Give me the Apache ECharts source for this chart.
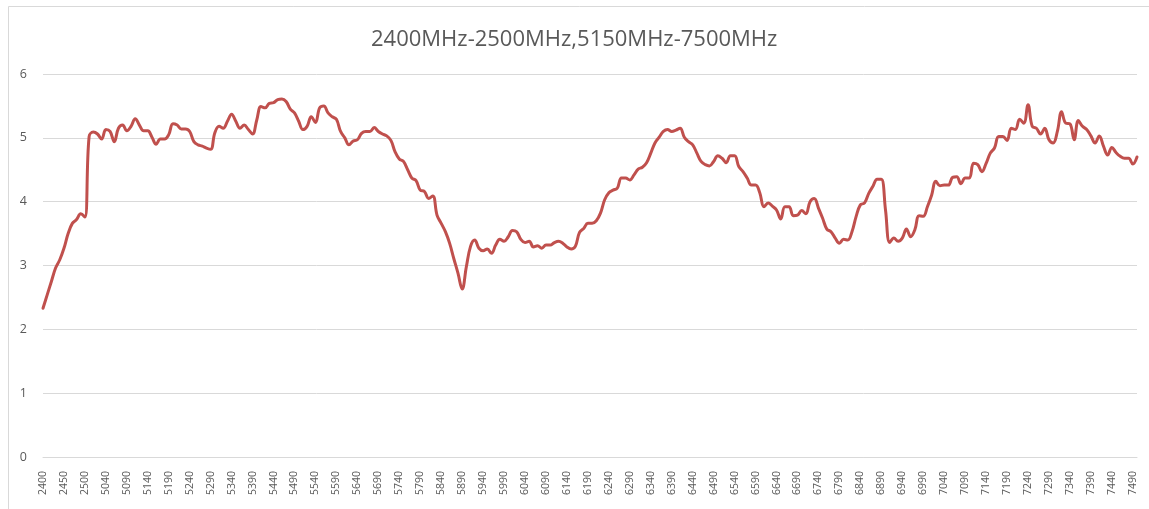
<!DOCTYPE html>
<html>
<head>
<meta charset="utf-8">
<script src="https://cdn.jsdelivr.net/npm/echarts@6/dist/echarts.min.js"></script>
<style>
html,body{margin:0;padding:0;background:#fff;}
#chart{width:1149px;height:509px;}
</style>
</head>
<body>
<div id="chart"></div>
<script>
const titleText = '2400MHz-2500MHz,5150MHz-7500MHz';

// Category labels (MHz)
const band24 = [2400, 2410, 2420, 2430, 2440, 2450, 2460, 2470, 2480, 2490, 2500];
const band5Start = 5000, band5End = 7500, band5Step = 10;
const band5 = [];
for (let f = band5Start; f <= band5End; f += band5Step) band5.push(f);
const categories = band24.concat(band5).map(String);

// Values
const vals24 = [2.33, 2.54, 2.75, 2.96, 3.09, 3.27, 3.50, 3.66, 3.72, 3.81, 3.76];
const valsA = [5.02, 5.09, 5.06, 4.98, 5.13, 5.10, 4.94, 5.15, 5.20, 5.11,
  5.18, 5.30, 5.20, 5.11, 5.11, 5.01, 4.90, 4.98, 4.98, 5.05,
  5.22, 5.20, 5.14, 5.14, 5.10, 4.94, 4.89, 4.87, 4.84, 4.82,
  5.08, 5.18, 5.15, 5.26, 5.37, 5.26, 5.15, 5.20, 5.13, 5.06];
const valsB = [5.28, 5.49, 5.47, 5.54, 5.55, 5.60, 5.61, 5.57, 5.45, 5.39,
  5.26, 5.13, 5.18, 5.33, 5.24, 5.47, 5.50, 5.39, 5.33, 5.29,
  5.10, 5.00, 4.89, 4.95, 4.97, 5.07, 5.10, 5.10, 5.16, 5.10,
  5.06, 5.03, 4.96, 4.78, 4.67, 4.63, 4.50, 4.37, 4.33, 4.18];
const valsC = [4.16, 4.05, 4.09, 3.79, 3.66, 3.53, 3.35, 3.11, 2.88, 2.63,
  2.98, 3.30, 3.40, 3.27, 3.23, 3.26, 3.19, 3.32, 3.41, 3.38,
  3.45, 3.55, 3.53, 3.41, 3.36, 3.38, 3.29, 3.31, 3.27, 3.32,
  3.32, 3.36, 3.38, 3.35, 3.29, 3.26, 3.30, 3.52, 3.58, 3.66];
const valsD = [3.66, 3.70, 3.82, 4.03, 4.14, 4.18, 4.21, 4.37, 4.37, 4.34,
  4.42, 4.51, 4.54, 4.61, 4.76, 4.92, 5.01, 5.10, 5.13, 5.10,
  5.12, 5.15, 5.01, 4.94, 4.89, 4.76, 4.63, 4.58, 4.56, 4.63,
  4.72, 4.68, 4.61, 4.72, 4.72, 4.55, 4.47, 4.37, 4.26, 4.26];
const valsE = [4.14, 3.92, 3.98, 3.93, 3.87, 3.73, 3.92, 3.92, 3.78, 3.79,
  3.86, 3.81, 4.00, 4.05, 3.90, 3.74, 3.57, 3.53, 3.43, 3.35,
  3.41, 3.40, 3.53, 3.77, 3.95, 3.98, 4.13, 4.24, 4.35, 4.35,
  3.87, 3.36, 3.43, 3.38, 3.43, 3.57, 3.45, 3.56, 3.78, 3.77];
const valsF = [3.92, 4.10, 4.32, 4.25, 4.26, 4.26, 4.38, 4.39, 4.28, 4.37,
  4.37, 4.60, 4.58, 4.47, 4.60, 4.76, 4.84, 5.02, 5.02, 4.96,
  5.15, 5.13, 5.29, 5.23, 5.52, 5.18, 5.15, 5.06, 5.15, 4.97,
  4.92, 5.10, 5.41, 5.23, 5.22, 4.97, 5.27, 5.18, 5.13, 5.03,
  4.92, 5.03, 4.87, 4.73, 4.85, 4.77, 4.71, 4.68, 4.68, 4.59, 4.70];
const values = vals24.concat(valsA, valsB, valsC, valsD, valsE, valsF);

const yTicks = {min: 0, max: 6, interval: 1};

const chart = echarts.init(document.getElementById('chart'), null, {renderer: 'canvas'});
chart.setOption({
  animation: false,
  backgroundColor: '#ffffff',
  graphic: [{
    type: 'rect',
    shape: {x: 8.5, y: 6.5, width: 1300, height: 700},
    style: {fill: 'none', stroke: '#d9d9d9', lineWidth: 1},
    silent: true
  }],
  title: {
    text: titleText,
    left: 366,
    top: 24,
    textStyle: {fontFamily: 'Open Sans', fontSize: 22, fontWeight: 'normal', color: '#595959'}
  },
  grid: {left: 43, right: 12, top: 74, bottom: 52, containLabel: false},
  xAxis: {
    type: 'category',
    data: categories,
    boundaryGap: false,
    axisLine: {show: true, lineStyle: {color: '#d9d9d9', width: 1}},
    axisTick: {show: false},
    axisLabel: {interval: 4, rotate: 90, margin: 14, fontSize: 10.5, fontFamily: 'Open Sans', color: '#595959'},
    splitLine: {show: false}
  },
  yAxis: {
    type: 'value',
    min: yTicks.min, max: yTicks.max, interval: yTicks.interval,
    axisLine: {show: false},
    axisTick: {show: false},
    axisLabel: {margin: 16, fontSize: 12.5, fontFamily: 'Open Sans', color: '#595959'},
    splitLine: {lineStyle: {color: '#d9d9d9', width: 1}}
  },
  series: [{
    type: 'line',
    data: values,
    smooth: 0.4,
    symbol: 'none',
    lineStyle: {color: '#C0504D', width: 3, cap: 'round', join: 'round'}
  }]
});
</script>
</body>
</html>
